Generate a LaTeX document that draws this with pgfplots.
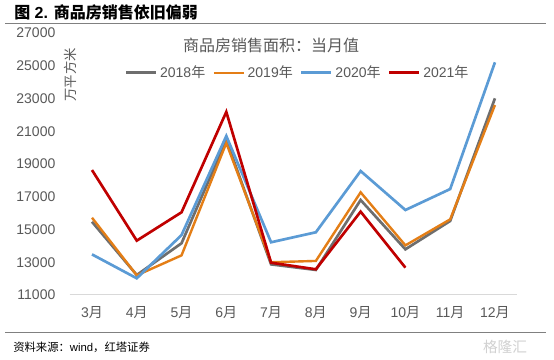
\documentclass[border=0pt]{standalone}
\usepackage{fontspec}
\setmainfont{Liberation Sans}
\newfontfamily\cjk{Noto Sans CJK SC}
\usepackage{pgfplots}
\pgfplotsset{compat=1.18}
\newcommand{\C}[1]{{\cjk #1}}
\definecolor{c18}{HTML}{6E6E6E}
\definecolor{c19}{HTML}{E47E16}
\definecolor{c20}{HTML}{5B9BD5}
\definecolor{c21}{HTML}{C00000}
\definecolor{txt}{HTML}{595959}
\begin{document}
\begin{tikzpicture}[x=0.75pt,y=0.75pt]
\useasboundingbox (0,0) rectangle (554,360);
\fill[white] (0,0) rectangle (554,360);
% header
\node[anchor=west,inner sep=0pt,font=\fontsize{12}{14}\selectfont\bfseries] at (14,348) {\C{图} 2. \C{商品房销售依旧偏弱}};
\draw[black!50,line width=0.75pt] (5,336) -- (546,336);
\draw[black!50,line width=0.75pt] (5,27) -- (546,27);
\node[anchor=west,inner sep=0pt,font=\fontsize{8.5}{10}\selectfont] at (13,13) {\C{资料来源：}wind\C{，红塔证券}};
\node[anchor=center,inner sep=0pt,text=black!18,font=\fontsize{11}{12}\selectfont] at (505,13) {\C{格隆汇}};
\begin{axis}[
  at={(52.2pt,48.75pt)}, anchor=south west,
  width=335.8pt, height=196.5pt, scale only axis,
  xmin=-0.5, xmax=9.5, ymin=11000, ymax=27000,
  ytick={11000,13000,...,27000},
  xtick={0,...,9},
  xticklabels={3\C{月},4\C{月},5\C{月},6\C{月},7\C{月},8\C{月},9\C{月},10\C{月},11\C{月},12\C{月}},
  axis x line*=bottom, axis y line*=left,
  y axis line style={draw=none},
  x axis line style={draw=black!15,line width=0.75pt},
  major tick length=0pt,
  scaled y ticks=false,
  /pgf/number format/assume math mode=true,
  yticklabel style={/pgf/number format/1000 sep={},font=\fontsize{10.5}{12}\selectfont,text=txt,inner sep=0pt,xshift=-10.5pt},
  xticklabel style={font=\fontsize{10.5}{12}\selectfont,text=txt,yshift=-5pt},
  clip=false,
  legend columns=4,
  legend style={at={(0.51,0.848)},anchor=center,draw=none,fill=none,
    font=\fontsize{10.5}{12}\selectfont,text=txt,
    /tikz/every even column/.append style={column sep=3.5pt},
    inner sep=0pt},
  legend image code/.code={\draw[#1] (0pt,0pt) -- (22.5pt,0pt);},
]
\addplot[c18,line width=2pt] coordinates {(0,15470) (1,12220) (2,14160) (3,20470) (4,12870) (5,12530) (6,16800) (7,13790) (8,15520) (9,23010)};
\addplot[c19,line width=1.8pt] coordinates {(0,15720) (1,12200) (2,13420) (3,20280) (4,13000) (5,13080) (6,17270) (7,14030) (8,15620) (9,22600)};
\addplot[c20,line width=2pt] coordinates {(0,13480) (1,12020) (2,14660) (3,20710) (4,14220) (5,14830) (6,18570) (7,16190) (8,17470) (9,25210)};
\addplot[c21,line width=2pt] coordinates {(0,18630) (1,14320) (2,16050) (3,22180) (4,12970) (5,12570) (6,16090) (7,12670)};
\legend{2018\C{年},2019\C{年},2020\C{年},2021\C{年}}
\node[text=txt,font=\fontsize{12}{14}\selectfont\cjk,anchor=center] at (rel axis cs:0.45,0.954) {商品房销售面积：当月值};
\node[text=txt,font=\fontsize{10}{12}\selectfont\cjk,rotate=90,anchor=center] at (rel axis cs:0.001,0.84) {万平方米};
\end{axis}
\end{tikzpicture}
\end{document}
